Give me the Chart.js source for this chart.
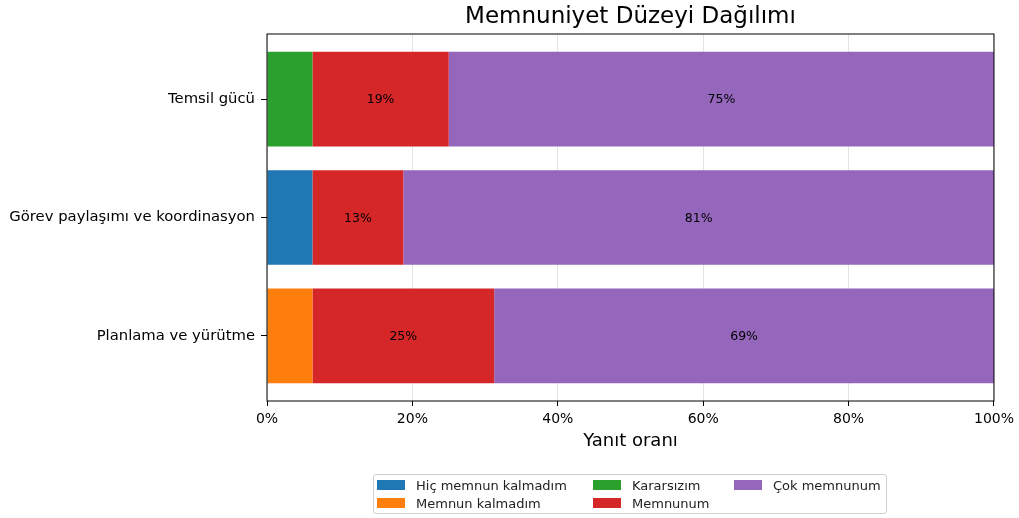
<!DOCTYPE html>
<html>
<head>
<meta charset="utf-8">
<script src="https://cdn.jsdelivr.net/npm/chart.js@4.4.0/dist/chart.umd.min.js"></script>
<style>
  body { margin: 0; background: #fff; }
  #wrap { position: relative; width: 1019px; height: 518px; }
  #legend {
    position: absolute; left: 373px; top: 474px; width: 514px; height: 40px;
    border: 1px solid #d0d0d0; border-radius: 3px; box-sizing: border-box;
    display: grid; grid-auto-flow: column; grid-template-rows: 1fr 1fr;
    grid-template-columns: 216px 141px auto; padding: 1px 0 1px 3px;
    font-family: 'DejaVu Sans', sans-serif; font-size: 13px; color: #222;
  }
  #legend .item { display: flex; align-items: center; white-space: nowrap; }
  #legend .sw { width: 28px; height: 10px; margin-right: 11px; }
</style>
</head>
<body>
<div id="wrap">
  <canvas id="chart" width="1019" height="518"></canvas>
  <div id="legend"></div>
</div>
<script>
const categories = ['Temsil gücü', 'Görev paylaşımı ve koordinasyon', 'Planlama ve yürütme'];
const seriesNames = ['Hiç memnun kalmadım', 'Memnun kalmadım', 'Kararsızım', 'Memnunum', 'Çok memnunum'];
const seriesColors = ['#1f77b4', '#ff7f0e', '#2ca02c', '#d62728', '#9467bd'];

// yüzde değerleri (kategori sırasıyla)
const hicMemnunKalmadim = [0, 6.25, 0];
const memnunKalmadim = [0, 0, 6.25];
const kararsizim = [6.25, 0, 0];
const memnunum = [18.75, 12.5, 25];
const cokMemnunum = [75, 81.25, 68.75];

const xTicks = [0, 20, 40, 60, 80, 100];
const chartTitle = 'Memnuniyet Düzeyi Dağılımı';

const seriesValues = [hicMemnunKalmadim, memnunKalmadim, kararsizim, memnunum, cokMemnunum];

const font = "'DejaVu Sans', sans-serif";

// segment ortasına yüzde yaz
const barLabels = {
  id: 'barLabels',
  afterDatasetsDraw(chart) {
    const ctx = chart.ctx;
    ctx.save();
    ctx.font = '12.5px ' + font;
    ctx.fillStyle = '#000';
    ctx.textAlign = 'center';
    ctx.textBaseline = 'middle';
    chart.data.datasets.forEach((ds, i) => {
      chart.getDatasetMeta(i).data.forEach((bar, j) => {
        const v = seriesValues[i][j];
        if (v < 10) return;
        const p = bar.getCenterPoint();
        ctx.fillText(Math.round(v) + '%', p.x, p.y + 1);
      });
    });
    ctx.restore();
  }
};

// çerçeve + grafik alanına göre ortalanmış başlık
const frame = {
  id: 'frame',
  afterDraw(chart) {
    const a = chart.chartArea;
    const ctx = chart.ctx;
    ctx.save();
    ctx.strokeStyle = '#000';
    ctx.lineWidth = 1;
    ctx.strokeRect(a.left, a.top, a.right - a.left, a.bottom - a.top);
    ctx.font = '23px ' + font;
    ctx.fillStyle = '#000';
    ctx.textAlign = 'center';
    ctx.textBaseline = 'middle';
    ctx.fillText(chartTitle, (a.left + a.right) / 2, 17);
    ctx.restore();
  }
};

const chart = new Chart(document.getElementById('chart').getContext('2d'), {
  type: 'bar',
  data: {
    datasets: seriesNames.map((name, i) => ({
      label: name,
      data: seriesValues[i].map((v, j) => ({ x: v, y: j })),
      backgroundColor: seriesColors[i],
      borderWidth: 0,
      barPercentage: 0.8,
      categoryPercentage: 1
    }))
  },
  options: {
    indexAxis: 'y',
    responsive: false,
    animation: false,
    layout: { padding: { left: 0, right: 25, top: 34, bottom: 66 } },
    plugins: {
      legend: { display: false },
      tooltip: { enabled: false },
      title: { display: false }
    },
    scales: {
      x: {
        type: 'linear',
        stacked: true,
        min: 0,
        max: 100,
        z: 1,
        afterBuildTicks: (scale) => { scale.ticks = xTicks.map(v => ({ value: v })); },
        afterFit: (scale) => { scale.height = 51; },
        ticks: {
          color: '#000',
          font: { family: font, size: 14 },
          padding: 5,
          maxRotation: 0,
          callback: (v) => v + '%'
        },
        grid: { color: 'rgba(210,210,210,0.6)', tickColor: '#000', tickLength: 5 },
        border: { display: false },
        title: {
          display: true,
          text: 'Yanıt oranı',
          color: '#000',
          font: { family: font, size: 18 },
          padding: { top: 2, bottom: 0 }
        }
      },
      y: {
        type: 'linear',
        stacked: true,
        reverse: true,
        offset: false,
        min: -0.55,
        max: 2.55,
        afterBuildTicks: (scale) => { scale.ticks = categories.map((c, i) => ({ value: i })); },
        afterFit: (scale) => { scale.width = 267; },
        ticks: {
          color: '#000',
          font: { family: font, size: 14.8 },
          padding: 6,
          callback: (v) => categories[v]
        },
        grid: { offset: false, drawOnChartArea: false, tickColor: '#000', tickLength: 6 },
        border: { display: false }
      }
    }
  },
  plugins: [barLabels, frame]
});

// matplotlib tarzı sütun düzenli açıklama
const legend = document.getElementById('legend');
chart.data.datasets.forEach((ds) => {
  const item = document.createElement('div');
  item.className = 'item';
  item.innerHTML = '<span class="sw" style="background:' + ds.backgroundColor + '"></span>' + ds.label;
  legend.appendChild(item);
});
</script>
</body>
</html>
